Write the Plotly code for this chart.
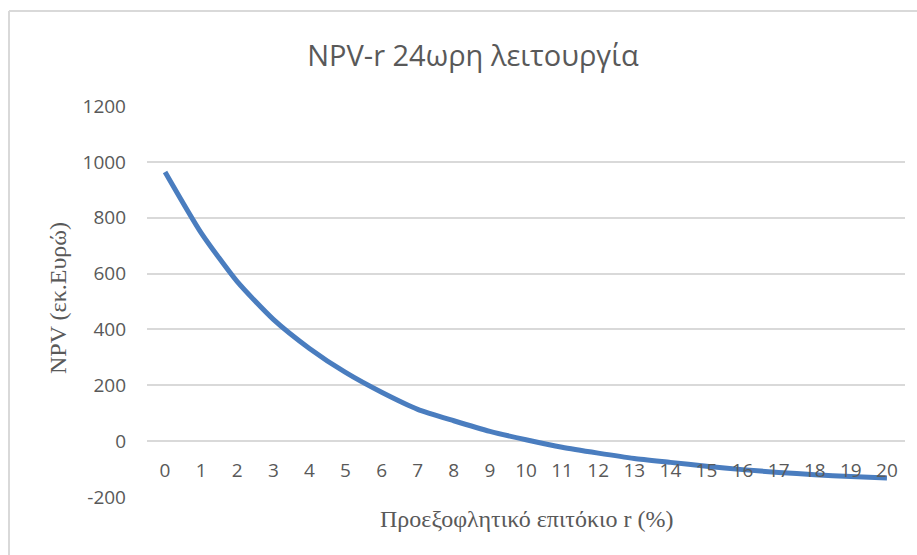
import plotly.graph_objects as go

rates = list(range(0, 21))
npv = [964, 746, 571, 436, 332, 246, 175, 114, 73, 35, 5, -22, -43, -62, -76, -90, -102, -112, -120, -127, -132]
y_ticks = [-200, 0, 200, 400, 600, 800, 1000, 1200]
y_tick_labels = ["-200", "0", "200", "400", "600", "800", "1000", "1200"]

title_text = "NPV-r 24ωρη λειτουργία"
x_title = "Προεξοφλητικό επιτόκιο r (%)"
y_title = "NPV (εκ.Ευρώ)"

W, H = 917, 555
L, R, T, B = 147, 12, 106, 58
pw, ph = W - L - R, H - T - B

def px_x(x):
    return (x - L) / pw

def px_y(y):
    return (H - B - y) / ph

grid = "#D9D9D9"
sans = "Open Sans"
serif = "Liberation Serif"

fig = go.Figure()
fig.add_trace(go.Scatter(
    x=rates, y=npv, mode="lines",
    line=dict(color="#4A7DBF", width=5, shape="spline", smoothing=0.6),
    showlegend=False, hoverinfo="x+y",
))

fig.update_layout(
    width=W, height=H,
    margin=dict(l=L, r=R, t=T, b=B),
    paper_bgcolor="white", plot_bgcolor="white",
    title=dict(text=title_text, x=473 / W, xanchor="center", y=1 - 56 / H, yanchor="middle",
               font=dict(family=sans, size=29, color="#595959")),
    xaxis=dict(
        range=[-0.5, 20.5], tickmode="array", tickvals=rates, ticktext=[str(r) for r in rates],
        showgrid=False, zeroline=False, showline=False, ticks="",
        anchor="free", position=px_y(442), ticklabelstandoff=15,
        tickfont=dict(family=sans, size=19, color="#595959"),
        fixedrange=True,
    ),
    yaxis=dict(
        range=[-200, 1200], tickmode="array", tickvals=y_ticks, ticktext=y_tick_labels,
        showgrid=True, gridcolor=grid, gridwidth=1.5,
        zeroline=True, zerolinecolor=grid, zerolinewidth=1.5,
        showline=False, ticks="", ticklabelstandoff=20,
        tickfont=dict(family=sans, size=19, color="#595959"),
        fixedrange=True,
    ),
    annotations=[
        dict(text=x_title, xref="paper", yref="paper", x=px_x(527), y=px_y(519),
             xanchor="center", yanchor="middle", showarrow=False,
             font=dict(family=serif, size=24, color="#595959")),
        dict(text=y_title, xref="paper", yref="paper", x=px_x(58), y=px_y(298),
             xanchor="center", yanchor="middle", showarrow=False, textangle=-90,
             font=dict(family=serif, size=24, color="#595959")),
    ],
    shapes=[
        dict(type="line", xref="paper", yref="paper", x0=px_x(9), x1=px_x(W + 5), y0=px_y(11), y1=px_y(11),
             line=dict(color=grid, width=2), layer="below"),
        dict(type="line", xref="paper", yref="paper", x0=px_x(9), x1=px_x(9), y0=px_y(11), y1=px_y(H + 5),
             line=dict(color=grid, width=2), layer="below"),
    ],
)

fig.write_html("out.html")
